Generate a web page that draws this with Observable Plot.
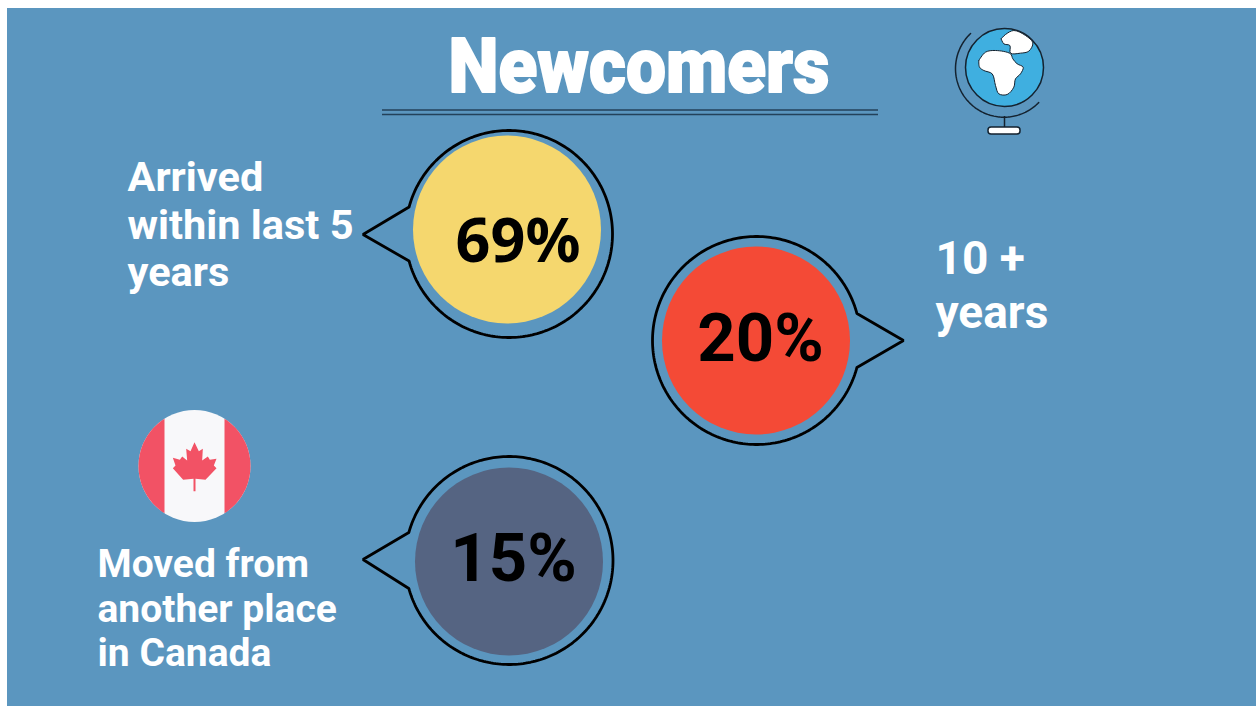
<!DOCTYPE html>
<html>
<head>
<meta charset="utf-8">
<script src="https://cdn.jsdelivr.net/npm/d3@7"></script>
<script src="https://cdn.jsdelivr.net/npm/@observablehq/plot@0.6"></script>
<style>
  html, body { margin: 0; padding: 0; background: #fff; overflow: hidden; }
</style>
</head>
<body>
<div id="chart"></div>
<script>
// Share of newcomers by group
const groups = ["Arrived within last 5 years", "10 + years", "Moved from another place in Canada"];
const shares = [69, 20, 15];
const headline = "Newcomers";

// Wrapped caption lines for each group
const captionLines = [
  ["Arrived", "within last 5", "years"],
  ["10 +", "years"],
  ["Moved from", "another place", "in Canada"]
];

// Page layout, in pixels
const layout = [
  {fill: "#F5D76E", cx: 506.5, cy: 229, ox: 508.5, oy: 233.5, or: 103.5, tip: [362.5, 234], tailY: 27, side: -1,
   tx: 517.5, ty: 261, valueSize: 61, valueFont: "'Noto Sans', sans-serif",
   capX: 127, capY: [190, 238, 285.5], capSize: 41.5},
  {fill: "#F44A36", cx: 755.5, cy: 340, ox: 756, oy: 340, or: 104, tip: [903, 340], tailY: 27, side: 1,
   tx: 760, ty: 360, valueSize: 67, valueFont: "Roboto, sans-serif",
   capX: 935, capY: [273, 327], capSize: 46},
  {fill: "#556482", cx: 508.5, cy: 561, ox: 508.5, oy: 560, or: 104, tip: [362.5, 559], tailY: 28, side: -1,
   tx: 513, ty: 580.5, valueSize: 67, valueFont: "Roboto, sans-serif",
   capX: 97, capY: [576, 621, 665], capSize: 39}
];
const discRadius = 94;

const rows = groups.map((group, i) => ({group, share: shares[i], ...layout[i]}));

// Speech-bubble outline: an arc broken by a pointed tail
function bubbleOutline(d) {
  const a = Math.asin(d.tailY / d.or);
  const start = d.side < 0 ? Math.PI + a : a;
  const pts = d3.range(0, 241).map((k) => {
    const t = start + (k / 240) * (2 * Math.PI - 2 * a);
    return {x: d.ox + d.or * Math.cos(t), y: d.oy + d.or * Math.sin(t), group: d.group};
  });
  pts.push({x: d.tip[0], y: d.tip[1], group: d.group});
  pts.push(pts[0]);
  return pts;
}
const outlines = rows.flatMap(bubbleOutline);

const captions = rows.flatMap((d, i) =>
  captionLines[i].map((text, j) => ({text, x: d.capX, y: d.capY[j], size: d.capSize}))
);

// Canadian flag badge
const flag = {x: 194, y: 465.5, r: 56, barL: 164, barR: 224};
function flagSide(sign) {
  const edge = sign < 0 ? flag.barL : flag.barR;
  const a = Math.acos(Math.abs(edge - flag.x) / flag.r);
  return d3.range(0, 61).map((k) => {
    const t = -a + (k / 60) * 2 * a;
    return {x: flag.x + sign * flag.r * Math.cos(t), y: flag.y + flag.r * Math.sin(t)};
  });
}
const leaf = [[222,125],[235,152],[247,145],[245,180],[262,168],[268,178],[288,175],[280,195],[288,203],[255,238],[225,235],[225,272],[219,272],[219,235],[188,238],[157,203],[165,195],[157,172],[178,178],[185,168],[200,180],[197,145],[210,152]]
  .map(([a, b]) => ({x: 120 + a / 3, y: 400 + b / 3}));

// Globe icon
const globe = {x: 1004, y: 67, r: 39, ringX: 1003.5, ringY: 68.2, ring: 48.5};
const ringArc = d3.range(0, 121).map((k) => {
  const t = (-133.6 - (k / 120) * 182) * Math.PI / 180;
  return {x: globe.ringX + globe.ring * Math.cos(t), y: globe.ringY + globe.ring * Math.sin(t)};
});
const toGlobe = ([a, b]) => ({x: 930 + a / 3, y: 10 + b / 3});
const africa = [[145,150],[165,125],[195,120],[240,130],[247,145],[260,160],[278,170],[270,190],[255,205],[250,230],[230,252],[205,250],[195,225],[185,190],[160,180],[147,170]].map(toGlobe);
const eurasia = [[212,85],[225,72],[250,60],[285,75],[307,97],[295,122],[270,128],[240,128],[238,105],[220,100]].map(toGlobe);

const ink = "#14222F";
const sans = "Roboto, sans-serif";

const chart = Plot.plot({
  width: 1256,
  height: 706,
  margin: 0,
  style: {background: "#fff"},
  x: {domain: [0, 1256], range: [0, 1256], axis: null},
  y: {domain: [0, 706], range: [0, 706], axis: null},
  marks: [
    Plot.rect([0], {x1: 7, x2: 1256, y1: 8, y2: 706, fill: "#5B96BF"}),

    // Headline and double rule
    Plot.text([headline], {x: 638.5, y: 91, text: (d) => d, fill: "#fff", stroke: "#fff", strokeWidth: 1.8, fontSize: 76, fontWeight: 900,
      fontFamily: sans, textAnchor: "middle", lineAnchor: "bottom", dy: 0, className: "headline"}),
    Plot.ruleY([109.5, 114], {x1: 382, x2: 878, stroke: "#23415A", strokeWidth: 1.5}),

    // Bubbles
    Plot.line(outlines, {x: "x", y: "y", z: "group", stroke: "#000", strokeWidth: 2.8, curve: "linear", strokeLinejoin: "miter"}),
    Plot.dot(rows, {x: "cx", y: "cy", r: discRadius, fill: "fill", stroke: null}),
    Plot.text(rows.slice(0, 1), {x: "tx", y: "ty", text: (d) => `${d.share}%`, fill: "#000", fontSize: rows[0].valueSize, fontWeight: 700,
      fontFamily: rows[0].valueFont, textAnchor: "middle", lineAnchor: "bottom", dy: 0}),
    Plot.text(rows.slice(1), {x: "tx", y: "ty", text: (d) => `${d.share}%`, fill: "#000", fontSize: rows[1].valueSize, fontWeight: 700,
      fontFamily: rows[1].valueFont, textAnchor: "middle", lineAnchor: "bottom", dy: 0}),

    // Captions
    Plot.text(captions, {x: "x", y: "y", text: "text", fontSize: "size", fontWeight: 700, fill: "#fff",
      fontFamily: sans, textAnchor: "start", lineAnchor: "bottom", dy: 0}),

    // Flag
    Plot.dot([flag], {x: "x", y: "y", r: flag.r, fill: "#F8F8FA", stroke: null}),
    Plot.line(flagSide(-1), {x: "x", y: "y", fill: "#F25265", stroke: null}),
    Plot.line(flagSide(1), {x: "x", y: "y", fill: "#F25265", stroke: null}),
    Plot.line(leaf, {x: "x", y: "y", fill: "#F25265", stroke: null}),

    // Globe
    Plot.line(ringArc, {x: "x", y: "y", stroke: ink, strokeWidth: 1.5}),
    Plot.dot([globe], {x: "x", y: "y", r: globe.r, fill: "#3FAFE0", stroke: ink, strokeWidth: 1.5}),
    Plot.line(africa.concat(africa[0]), {x: "x", y: "y", fill: "#fff", stroke: ink, strokeWidth: 1, curve: "catmull-rom"}),
    Plot.line(eurasia.concat(eurasia[0]), {x: "x", y: "y", fill: "#fff", stroke: ink, strokeWidth: 1, curve: "catmull-rom"}),
    Plot.ruleX([globe.x], {y1: 116, y2: 128, stroke: ink, strokeWidth: 1.5}),
    Plot.rect([0], {x1: 988, x2: 1020, y1: 127, y2: 134, fill: "#fff", stroke: ink, strokeWidth: 1.5, rx: 3})
  ]
});
chart.style.position = "absolute";
chart.style.left = "0";
chart.style.top = "0";
document.getElementById("chart").append(chart);

// Condense the heavy headline to its set width
const headlineText = chart.querySelector(".headline text");
if (headlineText) {
  headlineText.setAttribute("textLength", 381);
  headlineText.setAttribute("lengthAdjust", "spacingAndGlyphs");
}
</script>
</body>
</html>
